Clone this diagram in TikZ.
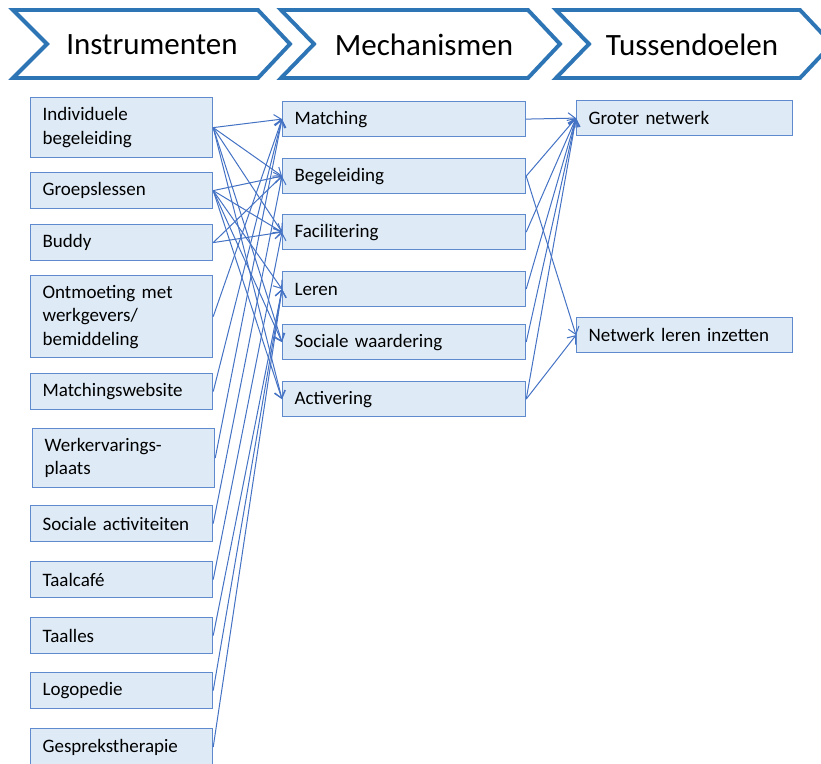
\documentclass[tikz,border=0pt]{standalone}
\usepackage{fontspec}
\setmainfont{Carlito}
\usetikzlibrary{arrows.meta}
\definecolor{boxfill}{RGB}{222,235,247}
\definecolor{boxline}{RGB}{96,138,206}
\definecolor{conncol}{RGB}{68,114,196}
\definecolor{chevline}{RGB}{46,117,182}
\begin{document}
\begin{tikzpicture}[x=1pt,y=-1pt,
  box/.style={draw=boxline, fill=boxfill, line width=1.2pt, rectangle,
    anchor=north west, inner xsep=12pt, inner ysep=0pt, align=left,
    font=\fontsize{19}{23.5}\selectfont, text=black},
  leftbox/.style={box, text width=158pt},
  midbox/.style={box, text width=219pt, minimum height=35pt},
  rightbox/.style={box, text width=192pt, minimum height=35pt},
  chev/.style={draw=chevline, fill=white, line width=3.9pt, line join=miter},
  chevtext/.style={font=\fontsize{31}{36}\selectfont, text=black},
  conn/.style={draw=conncol, line width=1pt, -{Straight Barb[length=7pt,width=11pt]}}]
\useasboundingbox (0,0) rectangle (821,763);
\fill[white] (0,0) rectangle (821,763);

% header chevrons
\draw[chev] (13,10) -- (258,10) -- (290,44) -- (258,78) -- (13,78) -- (47,44) -- cycle;
\draw[chev] (281,10) -- (528,10) -- (560,44) -- (528,78) -- (281,78) -- (314,44) -- cycle;
\draw[chev] (556,10) -- (800,10) -- (832,44) -- (800,78) -- (556,78) -- (589,44) -- cycle;
\node[chevtext] (h1) at (152,45) {Instrumenten};
\node[chevtext] (h2) at (424,45) {Mechanismen};
\node[chevtext] (h3) at (692,45) {Tussendoelen};

% instruments
\node[leftbox, minimum height=60pt] (ib)  at (30,97)  {Individuele\\begeleiding};
\node[leftbox, minimum height=36pt] (gl)  at (30,172) {Groepslessen};
\node[leftbox, minimum height=36pt] (bud) at (30,224) {Buddy};
\node[leftbox, minimum height=82pt] (ont) at (30,275) {Ontmoeting met\\werkgevers/\\bemiddeling};
\node[leftbox, minimum height=36pt] (mws) at (30,373) {Matchingswebsite};
\node[leftbox, minimum height=59pt] (wev) at (32,428) {Werkervarings-\\plaats};
\node[leftbox, minimum height=36pt] (soc) at (30,505) {Sociale activiteiten};
\node[leftbox, minimum height=36pt] (tc)  at (30,561) {Taalcafé};
\node[leftbox, minimum height=36pt] (tl)  at (30,617) {Taalles};
\node[leftbox, minimum height=36pt] (log) at (30,672) {Logopedie};
\node[leftbox, minimum height=37pt] (gt)  at (30,728) {Gesprekstherapie};

% mechanisms
\node[midbox] (mat) at (282,101) {Matching};
\node[midbox] (beg) at (282,158) {Begeleiding};
\node[midbox] (fac) at (282,214) {Facilitering};
\node[midbox] (ler) at (282,271) {Leren};
\node[midbox] (sw)  at (282,324) {Sociale waardering};
\node[midbox] (act) at (282,381) {Activering};

% intermediate goals
\node[rightbox] (gn)  at (576,100) {Groter netwerk};
\node[rightbox] (nli) at (576,317) {Netwerk leren inzetten};

% instruments -> mechanisms
\foreach \s/\t in {ib/mat, ib/beg, ib/fac, ib/sw, ib/act,
                   gl/beg, gl/fac, gl/ler, gl/sw, gl/act,
                   bud/beg, bud/fac,
                   ont/mat, mws/mat, wev/mat,
                   soc/beg, tc/fac, tl/ler, log/ler, gt/ler}
  \draw[conn] (\s.east) -- (\t.west);

% mechanisms -> intermediate goals
\foreach \s/\t in {mat/gn, beg/gn, beg/nli, fac/gn, ler/gn, sw/gn, act/gn, act/nli}
  \draw[conn] (\s.east) -- (\t.west);
\end{tikzpicture}
\end{document}
